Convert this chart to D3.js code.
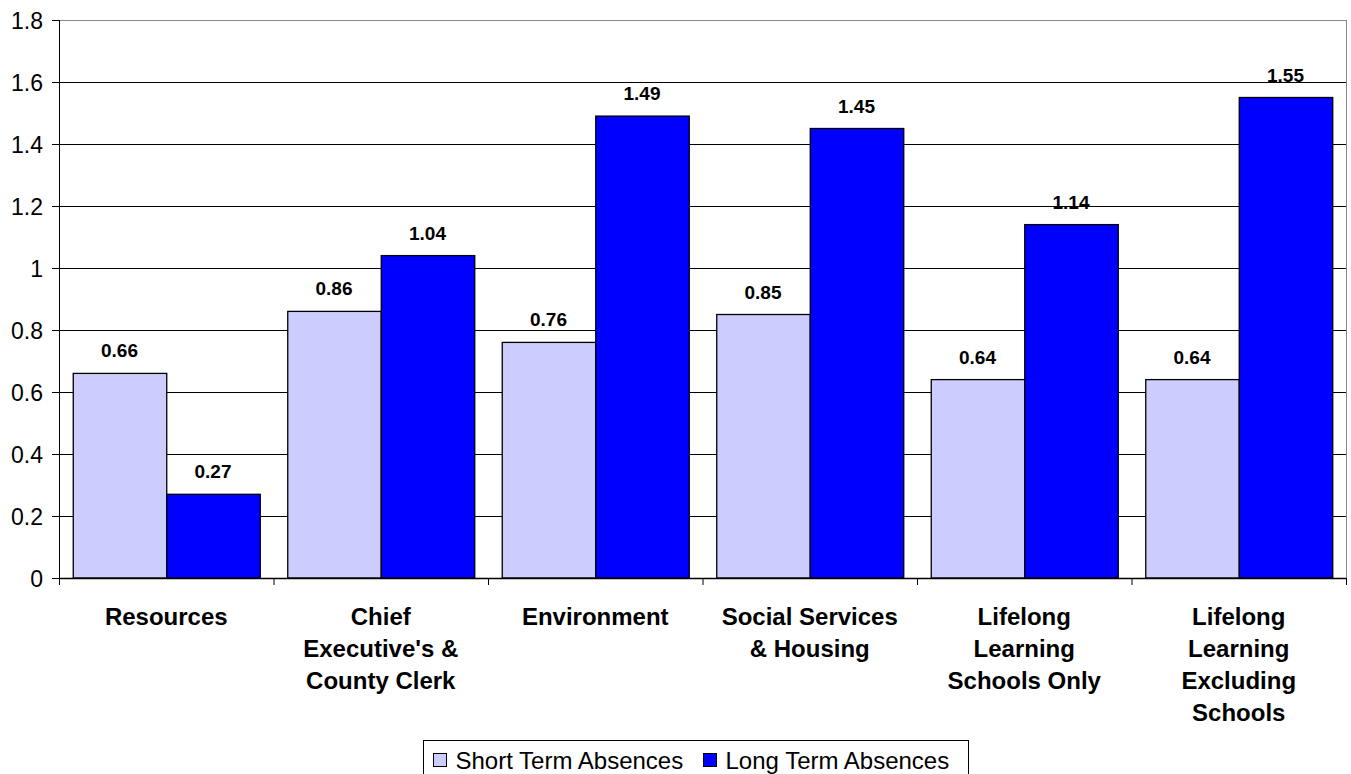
<!DOCTYPE html>
<html>
<head>
<meta charset="utf-8">
<script src="https://cdn.jsdelivr.net/npm/d3@7"></script>
<style>
  body { margin: 0; background: #fff; }
  svg { display: block; font-family: Arial, "Liberation Sans", sans-serif; }
</style>
</head>
<body>
<div id="viz"></div>
<script>
// datos
const categories = ['Resources', "Chief Executive's & County Clerk", 'Environment',
  'Social Services & Housing', 'Lifelong Learning Schools Only', 'Lifelong Learning Excluding Schools'];
const categoryLines = [
  ['Resources'],
  ['Chief', "Executive's &", 'County Clerk'],
  ['Environment'],
  ['Social Services', '& Housing'],
  ['Lifelong', 'Learning', 'Schools Only'],
  ['Lifelong', 'Learning', 'Excluding', 'Schools']
];
const series = ['Short Term Absences', 'Long Term Absences'];
const shortTerm = [0.66, 0.86, 0.76, 0.85, 0.64, 0.64];
const longTerm = [0.27, 1.04, 1.49, 1.45, 1.14, 1.55];
const yTicks = [0, 0.2, 0.4, 0.6, 0.8, 1, 1.2, 1.4, 1.6, 1.8];

const COLOR_SHORT = '#CCCCFF', COLOR_LONG = '#0000FF';

const W = 1351, H = 774;
const margin = {top: 20, right: 5, bottom: 196, left: 59};
const width = W - margin.left - margin.right,
      height = H - margin.top - margin.bottom;

const svg = d3.select('#viz').append('svg')
  .attr('width', W).attr('height', H);
const g = svg.append('g')
  .attr('transform', 'translate(' + margin.left + ',' + margin.top + ')');

const x = d3.scaleBand().domain(categories).range([0, width]).paddingInner(0).paddingOuter(0);
const xSub = d3.scaleBand().domain(series).range([0, x.bandwidth()]).paddingInner(0).paddingOuter(0.147);
const y = d3.scaleLinear().domain([0, 1.8]).range([height, 0]);
const color = d3.scaleOrdinal().domain(series).range([COLOR_SHORT, COLOR_LONG]);

// rejilla
g.append('g').selectAll('line')
  .data(yTicks.slice(1))
  .enter().append('line')
  .attr('x1', 0).attr('x2', width)
  .attr('y1', d => Math.round(y(d)) + 0.5).attr('y2', d => Math.round(y(d)) + 0.5)
  .attr('stroke', d => d === 1.8 ? '#888' : '#000')
  .attr('stroke-width', 1);

// borde derecho
g.append('line')
  .attr('x1', width + 0.5).attr('x2', width + 0.5)
  .attr('y1', 0).attr('y2', height)
  .attr('stroke', '#888');

// barras
const rows = categories.map((c, i) => ({cat: c, values: [
  {key: series[0], value: shortTerm[i]},
  {key: series[1], value: longTerm[i]}
]}));

const groups = g.append('g').selectAll('g')
  .data(rows).enter().append('g')
  .attr('transform', d => 'translate(' + x(d.cat) + ',0)');

groups.selectAll('rect')
  .data(d => d.values).enter().append('rect')
  .attr('x', d => xSub(d.key) + 0.5)
  .attr('y', d => y(d.value))
  .attr('width', xSub.bandwidth())
  .attr('height', d => height - y(d.value))
  .attr('fill', d => color(d.key))
  .attr('stroke', '#000')
  .attr('stroke-width', 1.3);

groups.selectAll('text.val')
  .data(d => d.values).enter().append('text')
  .attr('class', 'val')
  .attr('x', d => xSub(d.key) + xSub.bandwidth() / 2)
  .attr('y', d => y(d.value) - 16)
  .attr('text-anchor', 'middle')
  .style('font-size', '19px').style('font-weight', 'bold')
  .text(d => d.value.toFixed(2));

// eje Y
const yAxis = g.append('g')
  .call(d3.axisLeft(y).tickValues(yTicks).tickSize(7).tickPadding(9)
    .tickFormat(d => d3.format('')(+d.toFixed(1))));
yAxis.select('.domain').attr('stroke', '#000').attr('d', 'M0.5,0V' + height);
yAxis.selectAll('.tick line').attr('stroke', '#000');
yAxis.selectAll('text').style('font-size', '23px').attr('fill', '#000').attr('dy', '0.35em');

// eje X
const xAxis = g.append('g').attr('transform', 'translate(0,' + height + ')');
xAxis.append('line')
  .attr('x1', 0).attr('x2', width)
  .attr('y1', 0.5).attr('y2', 0.5).attr('stroke', '#000').attr('stroke-width', 1.5);
xAxis.selectAll('line.tk')
  .data(d3.range(categories.length + 1)).enter().append('line')
  .attr('class', 'tk')
  .attr('x1', i => (i < categories.length ? x(categories[i]) : width) + 0.5)
  .attr('x2', i => (i < categories.length ? x(categories[i]) : width) + 0.5)
  .attr('y1', 0).attr('y2', 7).attr('stroke', '#000');

const labels = xAxis.selectAll('text.cat')
  .data(categories).enter().append('text')
  .attr('class', 'cat')
  .attr('text-anchor', 'middle')
  .style('font-size', '24px').style('font-weight', 'bold')
  .attr('transform', d => 'translate(' + (x(d) + x.bandwidth() / 2) + ',47)');
labels.selectAll('tspan')
  .data((d, i) => categoryLines[i]).enter().append('tspan')
  .attr('x', 0).attr('y', (d, i) => i * 32)
  .text(d => d);

// leyenda
const legend = svg.append('g').attr('transform', 'translate(423.5,740.5)');
legend.append('rect')
  .attr('width', 545).attr('height', 40)
  .attr('fill', '#fff').attr('stroke', '#000');
const legendX = [10, 280];
series.forEach((s, i) => {
  legend.append('rect')
    .attr('x', legendX[i]).attr('y', 13)
    .attr('width', 13).attr('height', 13)
    .attr('fill', color(s)).attr('stroke', '#000');
  legend.append('text')
    .attr('x', legendX[i] + 22).attr('y', 28)
    .style('font-size', '24px')
    .text(s);
});
</script>
</body>
</html>
